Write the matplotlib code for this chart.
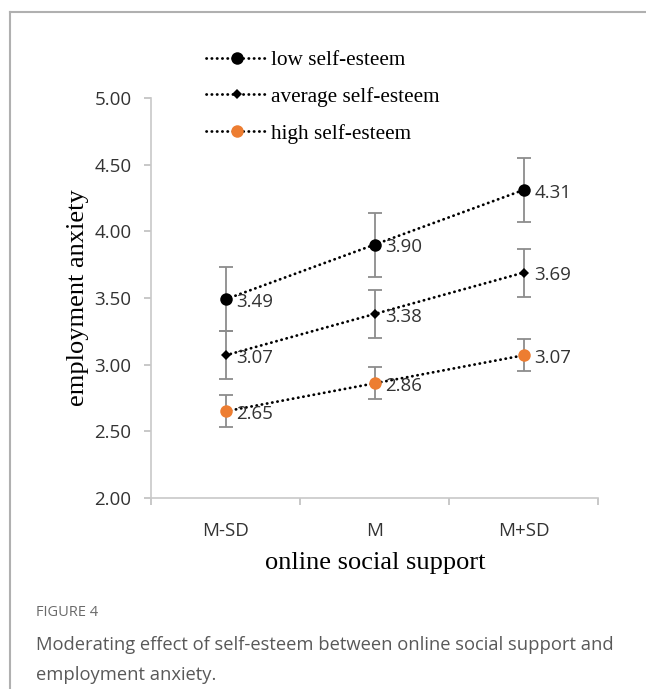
import matplotlib
matplotlib.use("Agg")
import matplotlib.pyplot as plt
from matplotlib.lines import Line2D

categories = ["M-SD", "M", "M+SD"]
series_names = ["low self-esteem", "average self-esteem", "high self-esteem"]
low_vals = [3.49, 3.90, 4.31]
avg_vals = [3.07, 3.38, 3.69]
high_vals = [2.65, 2.86, 3.07]
low_err = [0.24, 0.24, 0.24]
avg_err = [0.18, 0.18, 0.18]
high_err = [0.12, 0.12, 0.12]
y_ticks = [2.00, 2.50, 3.00, 3.50, 4.00, 4.50, 5.00]

W, H = 646, 689
fig = plt.figure(figsize=(W / 100, H / 100), dpi=100)
fig.patch.set_facecolor("white")

def fx(px):
    return px / W

def fy(py):
    return 1 - py / H

DOT = (0, (0.1, 1.8))
LW = 2.0

ax = fig.add_axes([fx(151), fy(498), fx(598) - fx(151), fy(98) - fy(498)])
x = list(range(1, len(categories) + 1))

styles = [
    (low_vals, low_err, "o", "black", 9),
    (avg_vals, avg_err, "D", "black", 5),
    (high_vals, high_err, "o", "#ED7D31", 9),
]
handles = []
for (vals, err, mk, col, ms), name in zip(styles, series_names):
    ax.errorbar(x, vals, yerr=err, fmt="none", ecolor="#8c8c8c", elinewidth=1.3,
                capsize=5, capthick=1.3, zorder=2)
    ax.plot(x, vals, linestyle=DOT, color="black", linewidth=LW,
            dash_capstyle="round", zorder=3)
    ax.plot(x, vals, linestyle="none", marker=mk, color=col, markersize=ms,
            markeredgewidth=0, zorder=4)
    for xi, v in zip(x, vals):
        ax.annotate(f"{v:.2f}", (xi, v), xytext=(8, -2), textcoords="offset points",
                    ha="left", va="center", fontsize=13.5, color="#333333",
                    family="Open Sans", zorder=5)
    handles.append(Line2D([0], [0], linestyle=DOT, color="black",
                          linewidth=LW, dash_capstyle="round", marker=mk,
                          markerfacecolor=col, markeredgewidth=0, markersize=ms))

ax.set_xlim(0.5, 3.5)
ax.set_ylim(2.0, 5.0)
ax.set_yticks(y_ticks)
ax.set_yticklabels([f"{t:.2f}" for t in y_ticks], family="Open Sans", fontsize=13.5,
                   color="#333333")
ax.set_xticks([0.5, 1.5, 2.5, 3.5])
ax.set_xticklabels([])
ax.set_xticks(x, minor=True)
ax.set_xticklabels(categories, minor=True, family="Open Sans", fontsize=13.5,
                   color="#333333")
ax.tick_params(axis="x", which="minor", length=0, pad=17)
ax.tick_params(axis="x", which="major", length=5, color="#bfbfbf", width=1.2)
ax.tick_params(axis="y", length=5, color="#bfbfbf", width=1.2, pad=9)
for s in ["top", "right"]:
    ax.spines[s].set_visible(False)
for s in ["left", "bottom"]:
    ax.spines[s].set_color("#c8c8c8")
    ax.spines[s].set_linewidth(1.2)

fig.text(fx(78), fy(298), "employment anxiety", rotation=90, ha="center", va="center",
         family="Liberation Serif", fontsize=19, color="black")
fig.text(fx(375), fy(563), "online social support", ha="center", va="center",
         family="Liberation Serif", fontsize=19, color="black")

leg = fig.legend(handles, series_names, loc="upper left",
                 bbox_to_anchor=(fx(187), fy(31)), frameon=False,
                 prop={"family": "Liberation Serif", "size": 15.3},
                 handlelength=2.9, labelspacing=0.8, handletextpad=0.15)

# panel frame
fig.add_artist(Line2D([fx(10), fx(10)], [fy(12), 0], color="#b0b0b0", linewidth=1.5))
fig.add_artist(Line2D([fx(10), 1], [fy(12), fy(12)], color="#b0b0b0", linewidth=1.5))

fig.text(fx(36), fy(613), "FIGURE 4", ha="left", va="center", family="Open Sans",
         fontsize=10.5, color="#6a6a6a")
fig.text(fx(36), fy(645), "Moderating effect of self-esteem between online social support and",
         ha="left", va="center", family="Open Sans", fontsize=13.2, color="#595959")
fig.text(fx(36), fy(675), "employment anxiety.", ha="left", va="center",
         family="Open Sans", fontsize=13.2, color="#595959")

fig.savefig("out.png", dpi=100)
